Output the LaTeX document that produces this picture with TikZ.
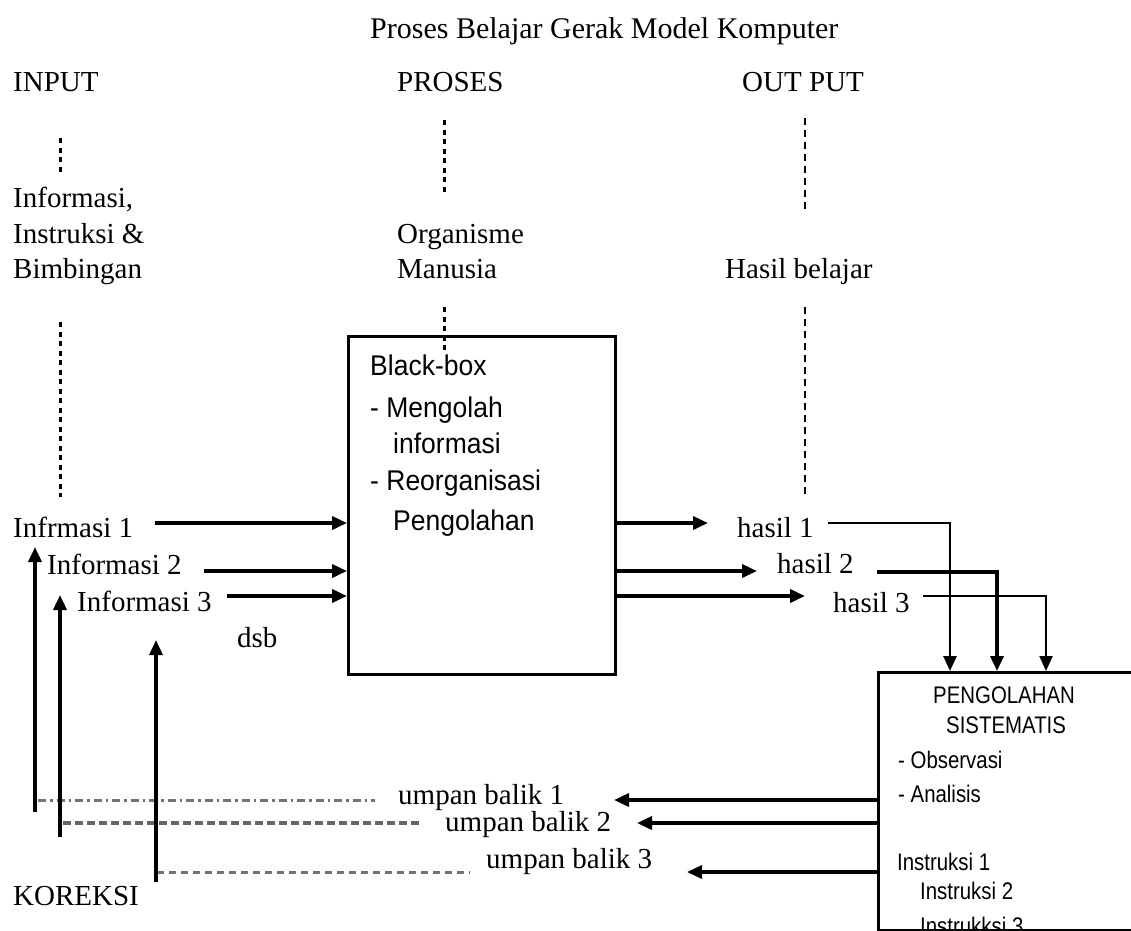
\documentclass[tikz,border=0pt]{standalone}
\usepackage{fontspec}
\setmainfont{Liberation Serif}
\newfontfamily\bbfont[FakeStretch=0.93]{Liberation Sans}
\newfontfamily\pbfont[FakeStretch=0.85]{Liberation Sans}
\usetikzlibrary{arrows.meta}
\begin{document}
\begin{tikzpicture}[x=1pt,y=-1pt,
  lbl/.style={inner sep=0pt,anchor=base west,font=\fontsize{29}{34}\selectfont},
  ttl/.style={inner sep=0pt,anchor=base west,font=\fontsize{30}{36}\selectfont},
  bbt/.style={inner sep=0pt,anchor=base west,font=\bbfont\fontsize{28.5}{34}\selectfont},
  pbt/.style={inner sep=0pt,anchor=base west,font=\pbfont\fontsize{24}{28}\selectfont},
  boxst/.style={draw,line width=3pt,inner sep=0pt,anchor=north west},
  tip/.style={-{Triangle[length=15pt,width=13pt]}},
  arr/.style={line width=3.6pt,tip},
  thickdash/.style={line width=3pt,dash pattern=on 5pt off 4.5pt},
  thindash/.style={line width=1.8pt,dash pattern=on 7pt off 5pt},
  fbdashdot/.style={line width=3pt,black!55,dash pattern=on 8pt off 4pt on 2.5pt off 4pt},
  fbdash/.style={line width=3.4pt,black!60,dash pattern=on 8pt off 4pt},
  fbdashb/.style={line width=3pt,black!55,dash pattern=on 7pt off 5pt}
]
\useasboundingbox (0,0) rectangle (1131,930);
\fill[white] (0,0) rectangle (1131,930);

% headings
\node[ttl] (title) at (370,38) {Proses Belajar Gerak Model Komputer};
\node[lbl] (input) at (13,91) {INPUT};
\node[lbl] (proses) at (397,91) {PROSES};
\node[lbl] (output) at (742,91) {OUT PUT};

% column texts
\node[lbl] (inf) at (13,207) {Informasi,};
\node[lbl] (ins) at (13,243) {Instruksi \&};
\node[lbl] (bim) at (13,278) {Bimbingan};
\node[lbl] (org) at (397,243) {Organisme};
\node[lbl] (man) at (397,278) {Manusia};
\node[lbl] (hb) at (725,278) {Hasil belajar};

% boxes
\node[boxst,minimum width=267pt,minimum height=338pt] (bb) at (347,335) {};
\node[boxst,minimum width=275pt,minimum height=258pt] (pb) at (877,671) {};

% dashed column lines
\coordinate (d1a) at (60,138); \coordinate (d1b) at (60,172);
\coordinate (d2a) at (60,322); \coordinate (d2b) at (60,497);
\coordinate (d3a) at (444,120); \coordinate (d3b) at (444,193);
\coordinate (d4a) at (444,307); \coordinate (d4b) at (444,354);
\coordinate (d5a) at (805,118); \coordinate (d5b) at (805,212);
\coordinate (d6a) at (805,307); \coordinate (d6b) at (805,498);
\draw[thickdash] (d1a) -- (d1b);
\draw[thickdash] (d2a) -- (d2b);
\draw[thickdash] (d3a) -- (d3b);
\draw[thickdash] (d4a) -- (d4b);
\draw[thindash] (d5a) -- (d5b);
\draw[thindash] (d6a) -- (d6b);

% black box text
\node[bbt] (bb1) at (370,375) {Black-box};
\node[bbt] (bb2) at (370,417) {- Mengolah};
\node[bbt] (bb3) at (393,453) {informasi};
\node[bbt] (bb4) at (370,490) {- Reorganisasi};
\node[bbt] (bb5) at (393,530) {Pengolahan};

% pengolahan box text
\node[pbt] (pb1) at (933,703) {PENGOLAHAN};
\node[pbt] (pb2) at (946,733) {SISTEMATIS};
\node[pbt] (pb3) at (898,768) {- Observasi};
\node[pbt] (pb4) at (898,802) {- Analisis};
\node[pbt] (pb5) at (897,870) {Instruksi 1};
\node[pbt] (pb6) at (920,899) {Instruksi 2};
\node[pbt] (pb7) at (920,934) {Instrukksi 3};

% inputs
\node[lbl] (i1) at (13,537) {Infrmasi 1};
\node[lbl] (i2) at (47,574) {Informasi 2};
\node[lbl] (i3) at (77,611) {Informasi 3};
\node[lbl] (dsb) at (237,647) {dsb};
\coordinate (i1s) at (155,523);
\coordinate (i2s) at (204,571);
\coordinate (i3s) at (227,596);
\draw[arr] (i1s) -- (i1s -| bb.west);
\draw[arr] (i2s) -- (i2s -| bb.west);
\draw[arr] (i3s) -- (i3s -| bb.west);

% outputs
\node[lbl] (h1) at (737,537) {hasil 1};
\node[lbl] (h2) at (777,573) {hasil 2};
\node[lbl] (h3) at (833,612) {hasil 3};
\coordinate (o1e) at (708,523);
\coordinate (o2e) at (757,571);
\coordinate (o3e) at (805,596);
\draw[arr] (o1e -| bb.east) -- (o1e);
\draw[arr] (o2e -| bb.east) -- (o2e);
\draw[arr] (o3e -| bb.east) -- (o3e);

% hasil to pengolahan
\coordinate (h1s) at (828,523); \coordinate (h1c) at (950,523);
\coordinate (h2s) at (877,572); \coordinate (h2c) at (997,572);
\coordinate (h3s) at (923,596); \coordinate (h3c) at (1046,596);
\draw[line width=2.6pt,tip] (h1s) -- (h1c) -- (h1c |- pb.north);
\draw[line width=3.6pt,tip] (h2s) -- (h2c) -- (h2c |- pb.north);
\draw[line width=2pt,tip] (h3s) -- (h3c) -- (h3c |- pb.north);

% feedback
\node[lbl] (u1) at (398,804) {umpan balik 1};
\node[lbl] (u2) at (445,831) {umpan balik 2};
\node[lbl] (u3) at (486,868) {umpan balik 3};
\coordinate (f1e) at (614,800);
\coordinate (f2e) at (637,823);
\coordinate (f3e) at (687,872);
\draw[arr] (f1e -| pb.west) -- (f1e);
\draw[arr] (f2e -| pb.west) -- (f2e);
\draw[arr] (f3e -| pb.west) -- (f3e);

% dashed feedback lines
\coordinate (l1a) at (38,800); \coordinate (l1b) at (375,800);
\coordinate (l2a) at (63,823); \coordinate (l2b) at (422,823);
\coordinate (l3a) at (157,872); \coordinate (l3b) at (470,872);
\draw[fbdashdot] (l1a) -- (l1b);
\draw[fbdash] (l2a) -- (l2b);
\draw[fbdashb] (l3a) -- (l3b);

% correction arrows
\coordinate (v1s) at (35,812); \coordinate (v1e) at (35,547);
\coordinate (v2s) at (60,837); \coordinate (v2e) at (60,595);
\coordinate (v3s) at (156,882); \coordinate (v3e) at (156,640);
\draw[arr] (v1s) -- (v1e);
\draw[arr] (v2s) -- (v2e);
\draw[arr] (v3s) -- (v3e);
\node[lbl] (kor) at (13,905) {KOREKSI};
\end{tikzpicture}
\end{document}
